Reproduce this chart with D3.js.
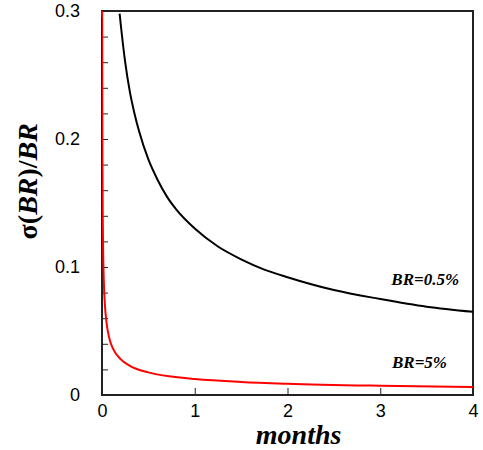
<!DOCTYPE html>
<html>
<head>
<meta charset="utf-8">
<script src="https://cdn.jsdelivr.net/npm/d3@7"></script>
<style>
  body { margin: 0; background: #fff; }
  svg { display: block; }
</style>
</head>
<body>
<div id="chart"></div>
<script>
// black curve, BR = 0.5%
const monthsBlack = [0.19, 0.2, 0.25, 0.3, 0.35, 0.4, 0.5, 0.6, 0.7, 0.8, 1.0, 1.25, 1.5, 1.75, 2, 2.5, 3, 3.5, 4];
const sigmaBlack  = [0.298, 0.291, 0.26, 0.237, 0.22, 0.206, 0.184, 0.168, 0.155, 0.145, 0.13, 0.116, 0.106, 0.098, 0.092, 0.082, 0.075, 0.069, 0.065];

// red curve, BR = 5%
const monthsRed = [0.0018, 0.003, 0.005, 0.008, 0.012, 0.02, 0.03, 0.05, 0.08, 0.12, 0.2, 0.3, 0.5, 0.75, 1, 1.5, 2, 3, 4];
const sigmaRed  = [0.295, 0.228, 0.177, 0.14, 0.114, 0.088, 0.072, 0.056, 0.044, 0.036, 0.028, 0.0228, 0.0177, 0.0144, 0.0125, 0.0102, 0.0088, 0.0072, 0.00625];

const xTicks = [0, 1, 2, 3, 4];
const yMinorTicks = [0, 0.02, 0.04, 0.06, 0.08, 0.1, 0.12, 0.14, 0.16, 0.18, 0.2, 0.22, 0.24, 0.26, 0.28, 0.3];
const yLabelTicks = [0, 0.1, 0.2, 0.3];

const margin = {top: 11, right: 10, bottom: 55, left: 102},
    width = 483 - margin.left - margin.right,
    height = 450 - margin.top - margin.bottom;

const svg = d3.select("#chart")
    .append("svg")
      .attr("width", 483)
      .attr("height", 450)
    .append("g")
      .attr("transform", `translate(${margin.left},${margin.top})`);

const x = d3.scaleLinear().domain([0, 4]).range([0, width]);
const y = d3.scaleLinear().domain([0, 0.3]).range([height, 0]);

svg.append("clipPath").attr("id", "clip")
  .append("rect").attr("width", width).attr("height", height);

const axisColor = "#222";

// x axis, ticks pointing inward
svg.append("g")
    .attr("transform", `translate(0,${height})`)
    .call(d3.axisBottom(x).tickValues(xTicks).tickSize(-7).tickPadding(9).tickFormat(d3.format("d")))
    .call(g => g.select(".domain").remove())
    .call(g => g.selectAll("line").attr("stroke", axisColor).attr("stroke-width", 1))
    .call(g => g.selectAll("text")
        .attr("font-family", "Liberation Sans, Arial, sans-serif")
        .attr("font-size", "18px")
        .attr("fill", "#000"));

// y axis minor ticks
svg.append("g")
    .call(d3.axisLeft(y).tickValues(yMinorTicks).tickSize(-6).tickFormat(""))
    .call(g => g.select(".domain").remove())
    .call(g => g.selectAll("line").attr("stroke", axisColor).attr("stroke-width", 1));

// y axis labels
svg.append("g")
    .call(d3.axisLeft(y).tickValues(yLabelTicks).tickSize(0).tickPadding(22)
        .tickFormat(d => d === 0 ? "0" : d3.format(".1f")(d)))
    .call(g => g.select(".domain").remove())
    .call(g => g.selectAll("text")
        .attr("font-family", "Liberation Sans, Arial, sans-serif")
        .attr("font-size", "18px")
        .attr("fill", "#000"));

// frame
svg.append("rect")
    .attr("width", width)
    .attr("height", height)
    .attr("fill", "none")
    .attr("stroke", axisColor)
    .attr("stroke-width", 2);

const line = d3.line()
    .x(d => x(d[0]))
    .y(d => y(d[1]))
    .curve(d3.curveMonotoneX);

svg.append("path")
    .datum(d3.zip(monthsBlack, sigmaBlack))
    .attr("clip-path", "url(#clip)")
    .attr("d", line)
    .attr("fill", "none")
    .attr("stroke", "#000")
    .attr("stroke-width", 2);

svg.append("path")
    .datum(d3.zip(monthsRed, sigmaRed))
    .attr("clip-path", "url(#clip)")
    .attr("d", line)
    .attr("fill", "none")
    .attr("stroke", "#f00")
    .attr("stroke-width", 2);

// the red curve starts steeply at the left axis
svg.append("line")
    .attr("x1", x(monthsRed[0])).attr("x2", x(monthsRed[0]))
    .attr("y1", y(0.3)).attr("y2", y(sigmaRed[0]))
    .attr("stroke", "#f00").attr("stroke-width", 2);

const serif = "Liberation Serif, Times New Roman, serif";

svg.append("text")
    .attr("x", x(3.85)).attr("y", y(0.086))
    .attr("text-anchor", "end")
    .attr("font-family", serif).attr("font-style", "italic").attr("font-weight", "bold")
    .attr("font-size", "17px")
    .text("BR=0.5%");

svg.append("text")
    .attr("x", x(3.72)).attr("y", y(0.021))
    .attr("text-anchor", "end")
    .attr("font-family", serif).attr("font-style", "italic").attr("font-weight", "bold")
    .attr("font-size", "17px")
    .text("BR=5%");

svg.append("text")
    .attr("x", x(2.12))
    .attr("y", height + 49)
    .attr("text-anchor", "middle")
    .attr("font-family", serif).attr("font-style", "italic").attr("font-weight", "bold")
    .attr("font-size", "28px")
    .text("months");

svg.append("text")
    .attr("transform", `translate(${-65},${y(0.167)}) rotate(-90)`)
    .attr("text-anchor", "middle")
    .attr("font-family", serif).attr("font-weight", "bold")
    .attr("font-size", "28px")
    .call(t => {
        t.append("tspan").text("σ(");
        t.append("tspan").attr("font-style", "italic").text("BR");
        t.append("tspan").text(")/");
        t.append("tspan").attr("font-style", "italic").text("BR");
    });
</script>
</body>
</html>
